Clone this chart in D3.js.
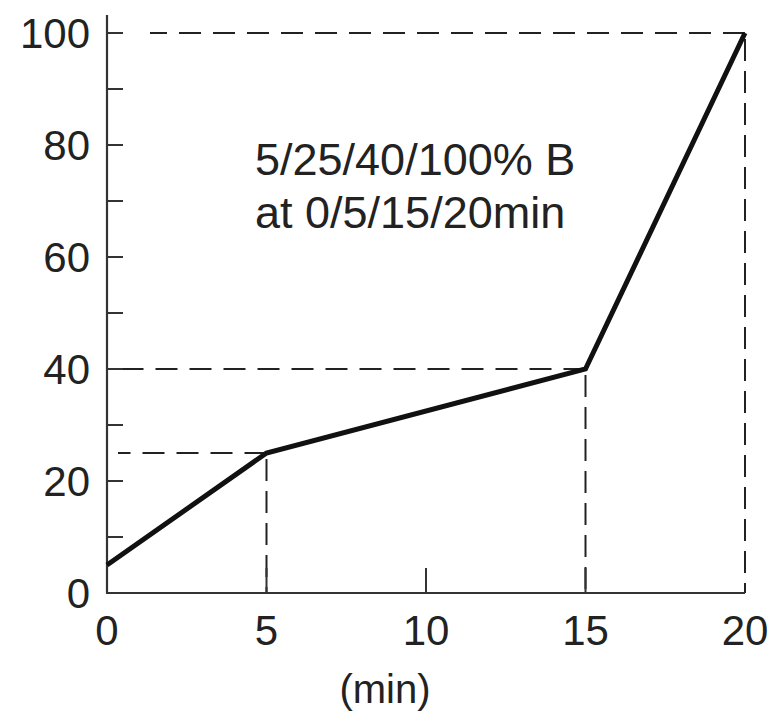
<!DOCTYPE html>
<html>
<head>
<meta charset="utf-8">
<script src="https://cdn.jsdelivr.net/npm/d3@7"></script>
<style>
  html, body { margin: 0; padding: 0; background: #fff; }
  svg { display: block; }
  text { font-family: "Liberation Sans", Arial, Helvetica, sans-serif; fill: #222; }
</style>
</head>
<body>
<svg id="chart" width="776" height="724"></svg>
<script>
// Gradient program: time (min) and %B at each breakpoint
const times = [0, 5, 15, 20];
const percentB = [5, 25, 40, 100];

// Axis ticks
const xTicks = [0, 5, 10, 15, 20];
const yLabelTicks = [0, 20, 40, 60, 80, 100];
const yMinorTicks = [10, 30, 50, 70, 90];

const annotationLines = ["5/25/40/100% B", "at 0/5/15/20min"];
const xAxisTitle = "(min)";

const svg = d3.select("#chart");

const x = d3.scaleLinear().domain([0, 20]).range([107, 745]);
const y = d3.scaleLinear().domain([0, 100]).range([593, 33]);

const axisColor = "#333";

// Guide lines from each breakpoint to the axes
const guides = svg.append("g")
  .attr("fill", "none")
  .attr("stroke", "#222")
  .attr("stroke-width", 2);

times.forEach((t, i) => {
  if (t === 0) return;
  const v = percentB[i];
  // horizontal: from axis to the breakpoint
  guides.append("line")
    .attr("x1", x(t)).attr("x2", x(0) + (v === 100 ? 43 : 11))
    .attr("y1", y(v)).attr("y2", y(v))
    .attr("stroke-dasharray", "22,12");
  // vertical: from the breakpoint down to the time axis
  guides.append("line")
    .attr("x1", x(t)).attr("x2", x(t))
    .attr("y1", y(v) + 6).attr("y2", y(0))
    .attr("stroke-dasharray", "22,10");
});

// Axis lines
svg.append("line")
  .attr("x1", x(0)).attr("x2", x(0))
  .attr("y1", y(0)).attr("y2", y(103.2))
  .attr("stroke", axisColor).attr("stroke-width", 2.2);
svg.append("line")
  .attr("x1", x(0) - 1).attr("x2", x(20))
  .attr("y1", y(0)).attr("y2", y(0))
  .attr("stroke", axisColor).attr("stroke-width", 2.2);

// Y ticks (inward)
svg.append("g").selectAll("line")
  .data(yLabelTicks.concat(yMinorTicks))
  .join("line")
  .attr("x1", x(0)).attr("x2", x(0) + 16)
  .attr("y1", d => y(d)).attr("y2", d => y(d))
  .attr("stroke", axisColor).attr("stroke-width", 2);

// X ticks (inward)
svg.append("g").selectAll("line")
  .data(xTicks.filter(d => d > 0 && d < 20))
  .join("line")
  .attr("x1", d => x(d)).attr("x2", d => x(d))
  .attr("y1", y(0)).attr("y2", y(0) - 25)
  .attr("stroke", axisColor).attr("stroke-width", 2);

// Y tick labels
svg.append("g").selectAll("text")
  .data(yLabelTicks)
  .join("text")
  .attr("x", 90)
  .attr("y", d => y(d))
  .attr("dy", "0.36em")
  .attr("text-anchor", "end")
  .attr("font-size", 42)
  .text(d => d);

// X tick labels
svg.append("g").selectAll("text")
  .data(xTicks)
  .join("text")
  .attr("x", d => x(d))
  .attr("y", 645)
  .attr("text-anchor", "middle")
  .attr("font-size", 42)
  .text(d => d);

// X axis title
svg.append("text")
  .attr("x", 385)
  .attr("y", 703)
  .attr("text-anchor", "middle")
  .attr("font-size", 40)
  .text(xAxisTitle);

// Annotation
svg.append("g").selectAll("text")
  .data(annotationLines)
  .join("text")
  .attr("x", 255)
  .attr("y", (d, i) => 175 + i * 53)
  .attr("font-size", 45)
  .text(d => d);

// Gradient profile
const line = d3.line()
  .x(d => x(d[0]))
  .y(d => y(d[1]));

svg.append("path")
  .datum(times.map((t, i) => [t, percentB[i]]))
  .attr("d", line)
  .attr("fill", "none")
  .attr("stroke", "#111")
  .attr("stroke-width", 5)
  .attr("stroke-linejoin", "miter");
</script>
</body>
</html>
